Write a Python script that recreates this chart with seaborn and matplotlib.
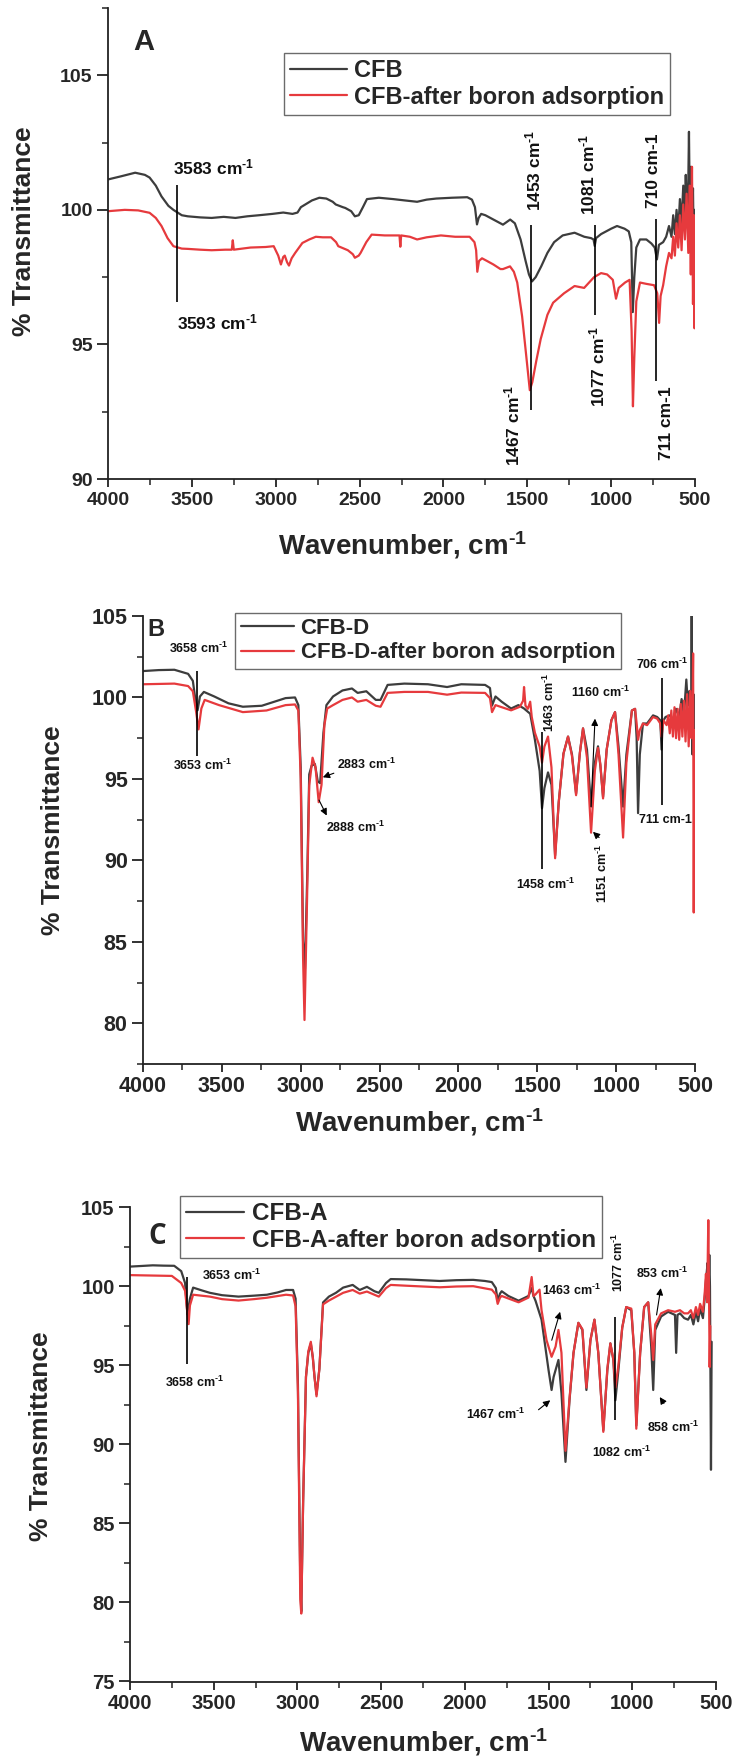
import matplotlib
matplotlib.use("Agg")
import matplotlib.pyplot as plt
from matplotlib.ticker import MultipleLocator
import pandas as pd
import seaborn as sns

# ---------------------------------------------------------------------------
# FTIR spectra: (wavenumber cm-1, % transmittance)
# ---------------------------------------------------------------------------
cfb = [
    (4000, 101.13), (3920, 101.25), (3838, 101.38), (3780, 101.3), (3752, 101.2),
    (3715, 100.9), (3681, 100.5), (3640, 100.15), (3610, 100.0), (3560, 99.8),
    (3524, 99.76), (3450, 99.72), (3382, 99.7), (3310, 99.74), (3240, 99.7),
    (3170, 99.76), (3100, 99.8), (3020, 99.85), (2955, 99.9), (2900, 99.85),
    (2870, 99.9), (2850, 100.1), (2784, 100.35), (2740, 100.45), (2698, 100.42),
    (2660, 100.3), (2642, 100.2), (2600, 100.1), (2585, 100.07), (2550, 99.95),
    (2528, 99.76), (2505, 99.8), (2480, 100.1), (2456, 100.4), (2385, 100.45),
    (2300, 100.4), (2230, 100.35), (2157, 100.3), (2100, 100.38), (2043, 100.42),
    (1950, 100.45), (1858, 100.47), (1830, 100.38), (1812, 100.1), (1800, 99.46),
    (1790, 99.7), (1775, 99.85), (1750, 99.8), (1702, 99.64), (1645, 99.45),
    (1602, 99.64), (1574, 99.5), (1540, 98.9), (1510, 98.1), (1490, 97.6),
    (1472, 97.34), (1450, 97.5), (1417, 97.9), (1380, 98.4), (1340, 98.8),
    (1289, 99.05), (1218, 99.15), (1160, 99.0), (1120, 98.95), (1105, 98.9),
    (1098, 98.66), (1090, 98.95), (1060, 99.1), (1000, 99.3), (965, 99.4),
    (920, 99.3), (895, 99.2), (880, 98.8), (871, 96.2), (862, 97.5),
    (850, 98.6), (828, 98.9), (790, 98.9), (760, 98.75), (740, 98.6),
    (727, 98.16), (715, 98.7), (690, 98.8), (672, 99.0), (655, 99.4),
    (640, 99.0), (630, 99.8), (620, 99.1), (610, 100.0), (600, 99.2),
    (590, 100.4), (580, 99.5), (570, 100.9), (562, 99.6), (555, 101.3),
    (548, 99.8), (540, 101.0), (536, 102.9), (530, 99.4), (524, 101.6),
    (518, 99.1), (512, 100.8), (506, 97.5), (502, 100.0), (500, 99.5),
]
cfb_boron = [
    (4000, 99.95), (3900, 100.0), (3820, 99.98), (3752, 99.89), (3715, 99.7),
    (3681, 99.4), (3645, 98.95), (3610, 98.65), (3560, 98.56), (3524, 98.55),
    (3450, 98.52), (3382, 98.5), (3300, 98.52), (3262, 98.52), (3256, 98.87),
    (3250, 98.52), (3150, 98.6), (3060, 98.62), (3012, 98.65), (2985, 98.3),
    (2969, 97.97), (2955, 98.25), (2946, 98.3), (2932, 98.05), (2921, 97.93),
    (2905, 98.2), (2884, 98.4), (2841, 98.77), (2800, 98.9), (2761, 99.0),
    (2720, 98.98), (2670, 98.98), (2640, 98.8), (2627, 98.65), (2570, 98.5),
    (2540, 98.35), (2528, 98.22), (2505, 98.3), (2494, 98.4), (2460, 98.8),
    (2428, 99.08), (2350, 99.05), (2262, 99.05), (2257, 98.63), (2252, 99.05),
    (2200, 99.0), (2157, 98.9), (2100, 98.98), (2015, 99.05), (1930, 99.0),
    (1844, 99.0), (1815, 98.8), (1805, 98.5), (1798, 97.7), (1788, 98.1),
    (1770, 98.2), (1740, 98.1), (1702, 97.97), (1660, 97.8), (1645, 97.8),
    (1603, 97.9), (1580, 97.7), (1560, 97.3), (1531, 96.05), (1510, 94.8),
    (1495, 93.9), (1485, 93.3), (1470, 93.6), (1446, 94.4), (1420, 95.2),
    (1380, 96.1), (1346, 96.55), (1281, 96.9), (1218, 97.17), (1161, 97.1),
    (1102, 97.5), (1060, 97.65), (1024, 97.6), (990, 97.4), (971, 96.7),
    (955, 97.1), (917, 97.3), (890, 97.4), (878, 95.5), (870, 92.7),
    (862, 94.5), (850, 96.6), (828, 97.3), (790, 97.25), (744, 97.2),
    (725, 96.9), (714, 95.8), (705, 96.8), (690, 97.2), (672, 97.9),
    (655, 98.4), (640, 98.2), (630, 99.0), (620, 98.3), (610, 99.5),
    (600, 98.6), (590, 99.8), (580, 98.5), (570, 100.2), (560, 98.9),
    (550, 100.6), (540, 98.4), (532, 100.9), (525, 97.6), (518, 101.6),
    (512, 96.5), (506, 99.8), (503, 95.6), (500, 98.0),
]

cfb_d = [
    (4000, 101.62), (3900, 101.68), (3801, 101.7), (3714, 101.45), (3684, 101.02),
    (3669, 99.96), (3654, 99.21), (3639, 100.06), (3614, 100.34), (3548, 100.06),
    (3458, 99.64), (3367, 99.43), (3247, 99.49), (3096, 99.96), (3036, 100.0),
    (3015, 99.53), (3000, 95.7), (2985, 85.06), (2973, 83.36), (2958, 89.32),
    (2946, 95.28), (2931, 95.81), (2910, 95.91), (2892, 94.85), (2877, 94.74),
    (2856, 97.83), (2837, 99.53), (2795, 100.06), (2735, 100.43), (2675, 100.55),
    (2639, 100.28), (2584, 100.38), (2524, 99.85), (2494, 99.85), (2449, 100.77),
    (2343, 100.85), (2193, 100.81), (2072, 100.64), (1982, 100.81), (1831, 100.77),
    (1800, 100.58), (1787, 99.5), (1765, 100.06), (1726, 99.74), (1666, 99.32),
    (1620, 99.53), (1584, 99.32), (1545, 99.0), (1515, 97.4), (1485, 95.49),
    (1470, 93.2), (1455, 94.43), (1432, 95.4), (1410, 94.64), (1387, 90.3),
    (1364, 93.57), (1334, 96.55), (1305, 97.6), (1280, 96.5), (1254, 94.1),
    (1230, 96.6), (1210, 98.1), (1185, 96.8), (1159, 93.3), (1135, 96.0),
    (1115, 97.0), (1100, 95.8), (1083, 93.9), (1060, 96.8), (1030, 98.6),
    (1007, 99.1), (985, 97.0), (956, 93.3), (935, 96.5), (900, 99.2),
    (880, 99.3), (870, 97.5), (861, 92.9), (850, 96.5), (830, 98.4),
    (804, 98.4), (766, 98.9), (740, 98.8), (720, 98.6), (712, 96.8),
    (705, 98.5), (687, 98.8), (660, 98.9), (640, 98.6), (620, 99.3),
    (600, 98.8), (585, 99.9), (570, 98.9), (555, 101.1), (545, 99.5),
    (535, 100.4), (525, 98.0), (521, 105.0), (516, 96.5), (510, 100.2),
    (505, 96.1), (500, 99.5),
]
cfb_d_boron = [
    (4000, 100.81), (3801, 100.85), (3714, 100.7), (3684, 100.38), (3663, 99.11),
    (3648, 98.04), (3630, 99.32), (3609, 99.85), (3518, 99.53), (3367, 99.1),
    (3217, 99.2), (3096, 99.53), (3036, 99.57), (3015, 99.2), (3000, 95.0),
    (2985, 84.0), (2976, 80.2), (2960, 87.5), (2946, 94.6), (2925, 96.3),
    (2906, 95.7), (2886, 93.57), (2868, 94.64), (2850, 98.3), (2832, 99.32),
    (2795, 99.53), (2735, 99.85), (2675, 100.0), (2639, 99.74), (2584, 99.85),
    (2524, 99.49), (2494, 99.43), (2449, 100.28), (2343, 100.34), (2193, 100.34),
    (2072, 100.17), (1982, 100.3), (1831, 100.28), (1800, 99.96), (1787, 99.1),
    (1765, 99.53), (1666, 99.21), (1610, 99.43), (1590, 99.8), (1584, 100.64),
    (1575, 99.5), (1560, 99.3), (1545, 99.74), (1535, 98.8), (1515, 97.83),
    (1485, 96.98), (1470, 96.0), (1455, 96.98), (1432, 97.6), (1410, 95.7),
    (1387, 90.13), (1364, 93.57), (1334, 96.55), (1305, 97.6), (1280, 96.4),
    (1254, 94.0), (1230, 96.6), (1210, 98.1), (1185, 96.3), (1159, 91.7),
    (1135, 95.5), (1115, 96.9), (1100, 95.9), (1083, 93.8), (1060, 96.8),
    (1030, 98.6), (1007, 99.1), (985, 96.5), (956, 91.4), (935, 96.0),
    (900, 99.2), (880, 99.3), (870, 98.4), (861, 97.4), (850, 98.0),
    (830, 98.4), (804, 98.3), (766, 98.8), (740, 98.7), (720, 98.4),
    (712, 97.6), (700, 98.6), (680, 98.3), (670, 98.9), (660, 97.8),
    (650, 99.2), (640, 97.6), (630, 99.4), (620, 97.5), (610, 99.3),
    (600, 97.4), (590, 99.6), (580, 97.6), (570, 99.8), (560, 97.3),
    (550, 100.2), (540, 97.0), (530, 100.4), (522, 97.5), (516, 99.0),
    (512, 102.7), (508, 86.8), (504, 98.0), (500, 97.0),
]

cfb_a = [
    (4000, 101.26), (3930, 101.3), (3864, 101.34), (3800, 101.32), (3736, 101.31),
    (3694, 100.97), (3671, 100.22), (3657, 98.24), (3642, 99.23), (3623, 99.93),
    (3570, 99.75), (3523, 99.6), (3450, 99.45), (3352, 99.36), (3260, 99.42),
    (3182, 99.48), (3120, 99.62), (3068, 99.78), (3026, 99.78), (3011, 99.23),
    (2997, 93.79), (2983, 81.41), (2977, 79.43), (2966, 86.36), (2949, 94.28),
    (2935, 95.8), (2920, 96.39), (2908, 95.5), (2898, 94.28), (2886, 93.17),
    (2869, 94.78), (2847, 98.99), (2812, 99.36), (2770, 99.6), (2727, 99.93),
    (2670, 100.1), (2628, 99.78), (2585, 99.98), (2540, 99.7), (2514, 99.6),
    (2471, 100.22), (2443, 100.47), (2350, 100.45), (2250, 100.4), (2150, 100.35),
    (2050, 100.4), (1950, 100.42), (1880, 100.35), (1839, 100.28), (1815, 99.9),
    (1804, 99.1), (1790, 99.55), (1780, 99.7), (1740, 99.4), (1679, 99.1),
    (1620, 99.4), (1601, 99.9), (1590, 99.4), (1578, 99.1), (1542, 97.9),
    (1500, 94.7), (1482, 93.45), (1470, 94.27), (1441, 95.35), (1423, 93.25),
    (1399, 88.9), (1375, 92.8), (1351, 95.8), (1322, 97.7), (1298, 97.25),
    (1274, 93.45), (1250, 96.6), (1226, 97.9), (1203, 95.8), (1173, 90.9),
    (1149, 94.7), (1131, 96.4), (1113, 95.35), (1101, 92.8), (1083, 94.7),
    (1060, 97.4), (1036, 98.7), (1006, 98.5), (988, 95.8), (976, 91.2),
    (953, 95.8), (929, 98.7), (905, 99.0), (887, 96.2), (875, 93.45),
    (863, 97.25), (828, 98.1), (786, 98.4), (745, 98.2), (738, 95.8),
    (730, 98.2), (715, 98.3), (690, 98.0), (667, 97.9), (650, 98.2),
    (635, 97.6), (620, 98.4), (607, 97.8), (595, 98.6), (578, 98.0),
    (568, 99.2), (560, 100.4), (550, 101.5), (545, 99.5), (540, 102.0),
    (536, 100.0), (530, 88.4), (526, 96.5),
]
cfb_a_boron = [
    (4000, 100.72), (3900, 100.7), (3800, 100.68), (3750, 100.67), (3694, 100.22),
    (3671, 99.73), (3660, 98.6), (3650, 97.62), (3642, 98.8), (3623, 99.48),
    (3523, 99.36), (3450, 99.2), (3352, 99.11), (3260, 99.2), (3182, 99.29),
    (3068, 99.48), (3026, 99.43), (3011, 98.74), (2997, 93.3), (2983, 80.2),
    (2977, 79.3), (2966, 86.36), (2949, 94.28), (2935, 95.9), (2920, 96.5),
    (2908, 95.5), (2898, 94.28), (2886, 93.05), (2869, 94.78), (2847, 98.87),
    (2812, 99.11), (2727, 99.6), (2670, 99.78), (2628, 99.55), (2585, 99.68),
    (2514, 99.36), (2471, 99.9), (2443, 100.1), (2350, 100.05), (2250, 100.0),
    (2150, 99.95), (2050, 100.0), (1950, 100.02), (1839, 99.8), (1815, 99.5),
    (1804, 98.9), (1790, 99.3), (1780, 99.4), (1679, 99.0), (1620, 99.3),
    (1601, 100.6), (1590, 99.4), (1578, 99.5), (1554, 99.8), (1542, 98.5),
    (1512, 96.6), (1482, 95.55), (1458, 96.2), (1441, 97.25), (1423, 95.8),
    (1399, 89.6), (1375, 92.9), (1351, 95.8), (1322, 97.7), (1298, 97.3),
    (1274, 93.6), (1250, 96.6), (1226, 97.9), (1203, 95.8), (1173, 90.8),
    (1149, 94.8), (1131, 96.4), (1113, 95.4), (1101, 93.6), (1083, 95.0),
    (1060, 97.4), (1036, 98.7), (1006, 98.6), (988, 95.8), (976, 91.0),
    (953, 95.8), (929, 98.7), (905, 99.0), (887, 97.0), (875, 95.35),
    (863, 97.6), (828, 98.3), (786, 98.5), (745, 98.4), (715, 98.5),
    (690, 98.3), (667, 98.3), (650, 98.5), (635, 98.0), (620, 98.7),
    (607, 98.2), (595, 98.9), (578, 98.4), (568, 99.5), (560, 100.8),
    (553, 99.0), (546, 104.2), (542, 100.0), (538, 94.9), (534, 97.5),
]

# Peak annotations: vertical markers (wn, y0, y1), labels (text, wn, T, angle),
# arrows (tail wn, tail T, head wn, head T)
SUP = r"cm$^{\text{-}1}$"
a_marks = [(3586, 96.57, 100.92), (1478, 92.58, 99.43), (1098, 96.1, 99.43), (730, 93.64, 99.65)]
a_labels = [
    (f"3583 {SUP}", 3368, 101.58, 0), (f"3593 {SUP}", 3350, 95.83, 0),
    (f"1453 {SUP}", 1462, 101.47, 90), (f"1467 {SUP}", 1586, 92.0, 90),
    (f"1081 {SUP}", 1140, 101.3, 90), (f"1077 {SUP}", 1084, 94.2, 90),
    ("710 cm-1", 750, 101.47, 90), ("711 cm-1", 667, 92.06, 90),
]
b_marks = [(3656, 96.4, 101.6), (1472, 89.5, 97.9), (709, 93.4, 101.2)]
b_labels = [
    (f"3658 {SUP}", 3651, 103.0, 0), (f"3653 {SUP}", 3620, 95.8, 0),
    (f"2883 {SUP}", 2580, 95.9, 0), (f"2888 {SUP}", 2650, 92.0, 0),
    (f"1463 {SUP}", 1425, 99.7, 90), (f"1458 {SUP}", 1451, 88.5, 0),
    (f"1160 {SUP}", 1102, 100.3, 0), (f"1151 {SUP}", 1090, 89.2, 90),
    (f"706 {SUP}", 709, 102.0, 0), ("711 cm-1", 690, 92.5, 0),
]
b_arrows = [(2790, 95.35, 2860, 95.1), (2884, 93.7, 2835, 92.75),
            (1159, 93.3, 1134, 98.7), (1108, 91.4, 1147, 91.75)]
c_marks = [(3657, 95.07, 100.6), (1101, 91.55, 98.1)]
c_labels = [
    (f"3653 {SUP}", 3395, 100.72, 0), (f"3658 {SUP}", 3617, 93.9, 0),
    (f"1463 {SUP}", 1363, 99.73, 0), (f"1467 {SUP}", 1815, 91.9, 0),
    (f"1077 {SUP}", 1083, 101.55, 90), (f"1082 {SUP}", 1065, 89.5, 0),
    (f"853 {SUP}", 822, 100.85, 0), (f"858 {SUP}", 756, 91.1, 0),
]
c_arrows = [(1481, 96.6, 1431, 98.4), (1560, 92.2, 1490, 92.8),
            (855, 98.2, 830, 99.9), (811, 92.6, 836, 93.0)]

# ---------------------------------------------------------------------------
sns.set_style("ticks")
plt.rcParams["font.family"] = ["Liberation Sans", "DejaVu Sans"]
plt.rcParams["font.weight"] = "bold"
plt.rcParams["mathtext.fontset"] = "custom"
plt.rcParams["mathtext.rm"] = "Liberation Sans:bold"
plt.rcParams["mathtext.it"] = "Liberation Sans:bold"
plt.rcParams["mathtext.bf"] = "Liberation Sans:bold"
plt.rcParams["mathtext.default"] = "bf"

W, H = 745, 1760
DARK, RED = "#3d3d3d", "#e63a3d"
fig = plt.figure(figsize=(W / 100, H / 100), dpi=100)


def box(l, t, r, b):
    return [l / W, 1 - b / H, (r - l) / W, (b - t) / H]


def ftext(x, y, s, **kw):
    fig.text(x / W, 1 - y / H, s, ha="center", va="center", fontweight="bold", **kw)


def draw(ax, pts, color, label):
    df = pd.DataFrame(pts, columns=["wn", "T"])
    sns.lineplot(data=df, x="wn", y="T", color=color, lw=1.6, sort=False,
                 estimator=None, ax=ax, label=label)


def style(ax, ylo, yhi, yticks, fs):
    ax.set_xlim(4000, 500)
    ax.set_ylim(ylo, yhi)
    ax.xaxis.set_major_locator(MultipleLocator(500))
    ax.xaxis.set_minor_locator(MultipleLocator(250))
    ax.set_yticks(yticks)
    ax.yaxis.set_minor_locator(MultipleLocator(2.5))
    ax.tick_params(which="major", length=8, width=1.3, labelsize=fs, pad=3, color="#222")
    ax.tick_params(axis="x", which="major", length=6)
    ax.tick_params(which="minor", length=4, width=1.1, color="#222")
    sns.despine(ax=ax)
    for s in ("left", "bottom"):
        ax.spines[s].set_linewidth(1.3)
        ax.spines[s].set_color("#222")
    ax.set_xlabel("")
    ax.set_ylabel("")
    for lab in ax.get_xticklabels() + ax.get_yticklabels():
        lab.set_fontweight("bold")


def annotate(ax, marks, labels, arrows, fs):
    for x, y0, y1 in marks:
        ax.vlines(x, y0, y1, color="black", lw=1.2)
    for text, x, y, rot in labels:
        ax.text(x, y, text, fontsize=fs, fontweight="bold", ha="center",
                va="center", rotation=rot, color="#111")
    for tx, ty, hx, hy in arrows:
        ax.annotate("", xy=(hx, hy), xytext=(tx, ty),
                    arrowprops=dict(arrowstyle="-|>", color="black", lw=0.8,
                                    mutation_scale=10, shrinkA=0, shrinkB=0))


def legend(ax, anchor, fs):
    ax.legend(loc="upper left", bbox_to_anchor=anchor, prop=dict(weight="bold", size=fs),
              frameon=True, fancybox=False, edgecolor="#6b6b6b", framealpha=1,
              borderpad=0.25, borderaxespad=0, handlelength=2.4, handletextpad=0.3,
              labelspacing=0.15)


# Panel A
axA = fig.add_axes(box(108, 8, 695, 479))
draw(axA, cfb, DARK, "CFB")
draw(axA, cfb_boron, RED, "CFB-after boron adsorption")
style(axA, 90, 107.5, [90, 95, 100, 105], 14)
annotate(axA, a_marks, a_labels, [], 12.5)
legend(axA, ((284 - 108) / 587, 0.904), 17)

# Panel B
axB = fig.add_axes(box(143, 616, 695, 1064))
draw(axB, cfb_d, DARK, "CFB-D")
draw(axB, cfb_d_boron, RED, "CFB-D-after boron adsorption")
style(axB, 77.5, 105, [80, 85, 90, 95, 100, 105], 15.5)
annotate(axB, b_marks, b_labels, b_arrows, 9)
legend(axB, ((235 - 143) / 552, 1.0076), 16)

# Panel C
axC = fig.add_axes(box(130, 1207.5, 716, 1681.5))
draw(axC, cfb_a, DARK, "CFB-A")
draw(axC, cfb_a_boron, RED, "CFB-A-after boron adsorption")
style(axC, 75, 105, [75, 80, 85, 90, 95, 100, 105], 14.5)
annotate(axC, c_marks, c_labels, c_arrows, 9)
legend(axC, ((180 - 130) / 586, 1.024), 17.5)

# Axis titles and panel letters
for x, y in ((24, 231), (53, 830), (41, 1436)):
    ftext(x, y, "% Transmittance", fontsize=19, rotation=90)
for x, y in ((402, 545), (419, 1122), (423, 1742)):
    ftext(x, y, r"Wavenumber, cm$^{\text{-}1}$", fontsize=20)
ftext(143.5, 42, "A", fontsize=21)
ftext(155.5, 630, "B", fontsize=17)
fig.text(157.5 / W, 1 - 1236 / H, "C", ha="center", va="center", fontsize=20,
         fontweight="bold", family=["Open Sans", "DejaVu Sans"])

fig.savefig("out.png", dpi=100)
